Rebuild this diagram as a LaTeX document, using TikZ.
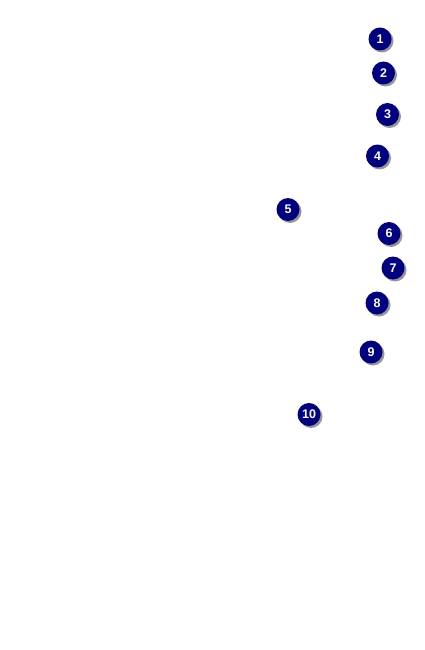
\documentclass[tikz,border=0pt]{standalone}
\usepackage{fontspec}
\setmainfont{Liberation Sans}
\definecolor{navyc}{RGB}{0,0,128}
\definecolor{shadowc}{RGB}{150,150,150}
\begin{document}
\begin{tikzpicture}[x=1pt,y=-1pt,
  numdot/.style={circle,fill=navyc,minimum size=23pt,inner sep=0pt,
    text=white,font=\fontsize{12.5}{12.5}\selectfont\bfseries,
    preaction={fill=shadowc,transform canvas={xshift=2pt,yshift=-2pt}}}]
\useasboundingbox[fill=white] (0,0) rectangle (425,650);
\node[numdot] (c1) at (380,39) {1};
\node[numdot] (c2) at (383.5,73) {2};
\node[numdot] (c3) at (387.5,114.5) {3};
\node[numdot] (c4) at (377.5,156) {4};
\node[numdot] (c5) at (288,209.5) {5};
\node[numdot] (c6) at (389,233.5) {6};
\node[numdot] (c7) at (393,268) {7};
\node[numdot] (c8) at (377,303) {8};
\node[numdot] (c9) at (371,352) {9};
\node[numdot] (c10) at (309,414.5) {10};
\end{tikzpicture}
\end{document}
